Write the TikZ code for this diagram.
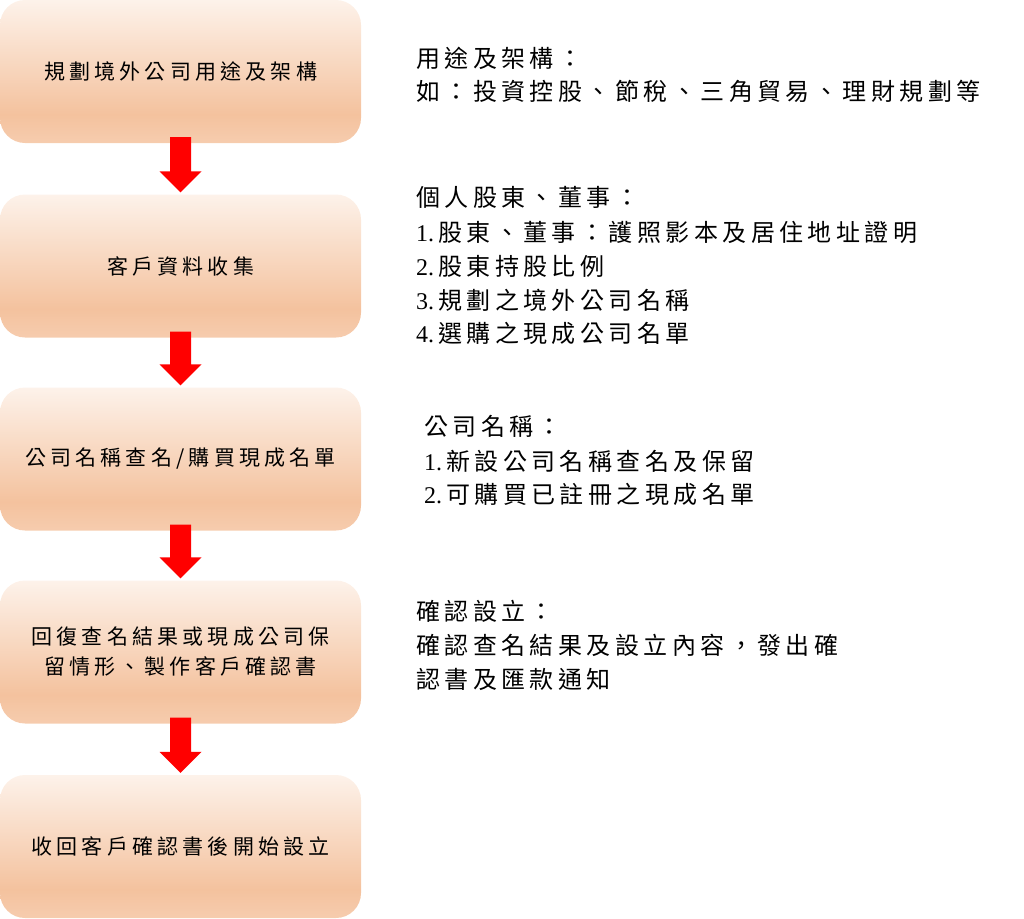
\documentclass[tikz,border=0pt]{standalone}
\usepackage{fontspec}
\usetikzlibrary{calc}
\newfontfamily\cjkbox[LetterSpace=20]{Noto Sans CJK TC}
\newfontfamily\cjkr[LetterSpace=18.5]{Noto Sans CJK TC}
\newfontfamily\lat{Liberation Serif}
\definecolor{pkT}{HTML}{FDF2EA}
\definecolor{pkD}{HTML}{F4C29E}
\definecolor{pkL}{HTML}{F6CCAE}
\definecolor{arrowred}{HTML}{FF0000}
\pgfdeclareverticalshading{boxshade}{100bp}{color(0bp)=(pkL); color(25bp)=(pkL); color(35bp)=(pkD); color(75bp)=(pkT); color(100bp)=(pkT)}
\newcommand{\num}[1]{{\lat #1}\hspace{4pt}}
\newcommand{\blockarrow}[2]{%
  \fill[arrowred] ($(#1.south)+(-10.5,-6)$) -- ($(#1.south)+(10.5,-6)$)
    -- ($(#2.north)+(10.5,-23)$) -- ($(#2.north)+(21,-23)$)
    -- ($(#2.north)+(0,-2)$) -- ($(#2.north)+(-21,-23)$)
    -- ($(#2.north)+(-10.5,-23)$) -- cycle;}
\begin{document}
\begin{tikzpicture}[x=1pt,y=-1pt,
  stepbox/.style={minimum width=361pt,minimum height=143pt,rounded corners=25pt,
    shading=boxshade,inner sep=0pt,align=center,
    font=\cjkbox\fontsize{21}{30}\selectfont},
  note/.style={anchor=base west,inner sep=0pt,font=\cjkr\fontsize{24}{34}\selectfont}]
\useasboundingbox (0,0) rectangle (1024,918);
\node[stepbox] (b1) at (180.5,71.5) {規劃境外公司用途及架構};
\node[stepbox] (b2) at (180.5,266) {客戶資料收集};
\node[stepbox] (b3) at (180.5,459) {公司名稱查名/購買現成名單};
\node[stepbox] (b4) at (180.5,652) {回復查名結果或現成公司保\\留情形、製作客戶確認書};
\node[stepbox] (b5) at (180.5,846.5) {收回客戶確認書後開始設立};
\blockarrow{b1}{b2}
\blockarrow{b2}{b3}
\blockarrow{b3}{b4}
\blockarrow{b4}{b5}
% notes
\node[note] (n11) at (416,67) {用途及架構：};
\node[note] (n12) at (416,100) {如：投資控股、節稅、三角貿易、理財規劃等};
\node[note] (n21) at (416,206) {個人股東、董事：};
\node[note] (n22) at (416,241) {\num{1.}股東、董事：護照影本及居住地址證明};
\node[note] (n23) at (416,275) {\num{2.}股東持股比例};
\node[note] (n24) at (416,309) {\num{3.}規劃之境外公司名稱};
\node[note] (n25) at (416,342) {\num{4.}選購之現成公司名單};
\node[note] (n31) at (424,435) {公司名稱：};
\node[note] (n32) at (424,470) {\num{1.}新設公司名稱查名及保留};
\node[note] (n33) at (424,503) {\num{2.}可購買已註冊之現成名單};
\node[note] (n41) at (416,620) {確認設立：};
\node[note] (n42) at (416,654) {確認查名結果及設立內容，發出確};
\node[note] (n43) at (416,688) {認書及匯款通知};
\end{tikzpicture}
\end{document}
